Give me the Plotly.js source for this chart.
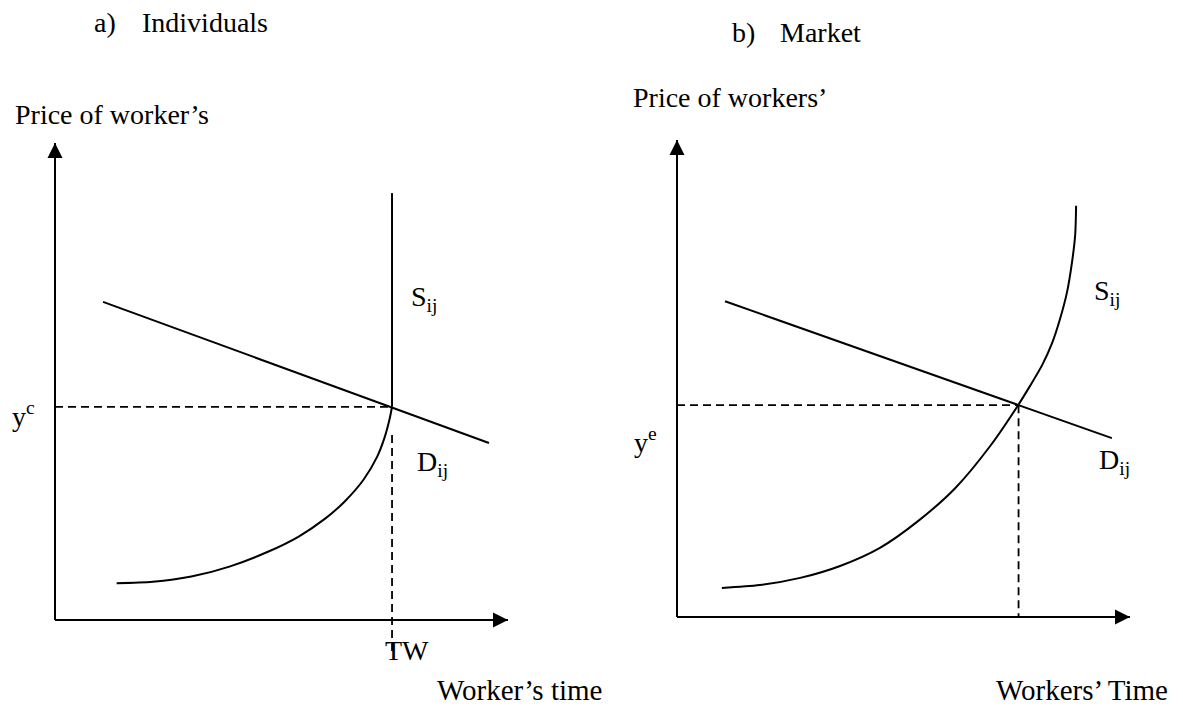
<!DOCTYPE html>
<html><head><meta charset="utf-8">
<script src="https://cdn.plot.ly/plotly-3.0.1.min.js"></script>
<style>html,body{margin:0;padding:0;background:#fff}#chart{width:1183px;height:711px}</style>
</head><body><div id="chart"></div>
<script>
// ---- Panel a) Individuals ----
const indivSupplyTime  = [1.36, 2.16, 3.01, 3.85, 4.70, 5.38, 5.97, 6.39, 6.81, 7.11, 7.28, 7.39, 7.44, 7.44];
const indivSupplyPrice = [0.77, 0.80, 0.91, 1.12, 1.43, 1.75, 2.13, 2.48, 2.94, 3.42, 3.84, 4.23, 4.47, 8.95];
const indivDemandTime  = [1.06, 9.58];
const indivDemandPrice = [6.67, 3.71];
const indivEquilTime   = [7.44];   // TW
const indivEquilPrice  = [4.47];   // y^c
const indivDropRange   = [3.88, -0.73];

// ---- Panel b) Market ----
const marketSupplyTime  = [0.99, 1.83, 2.72, 3.60, 4.48, 5.32, 6.14, 6.91, 7.53, 7.79, 8.06, 8.28, 8.45, 8.61, 8.72, 8.79, 8.81];
const marketSupplyPrice = [0.61, 0.67, 0.82, 1.07, 1.45, 2.01, 2.70, 3.58, 4.44, 4.84, 5.28, 5.74, 6.23, 6.81, 7.44, 8.01, 8.62];
const marketDemandTime  = [1.06, 9.60];
const marketDemandPrice = [6.62, 3.75];
const marketEquilTime   = [7.54];
const marketEquilPrice  = [4.44];

const axisMax = [10];

const FONT = {family: 'Liberation Serif', size: 28, color: '#000'};
const FONT_X = {family: 'Liberation Serif', size: 29, color: '#000'};
const solid = {color: '#000', width: 2};
const dashed = {color: '#000', width: 1.8, dash: '8px,5px'};

function line(x, y, xa, ya, ln, shape) {
  return {type: 'scatter', mode: 'lines', x: x, y: y, xaxis: xa, yaxis: ya,
          line: Object.assign({}, ln, shape ? {shape: shape, smoothing: 0.8} : {}),
          hoverinfo: 'skip', showlegend: false};
}

const n = indivSupplyTime.length;
const data = [
  line([0, axisMax[0]], [0, 0], 'x', 'y', solid),
  line([0, 0], [0, axisMax[0]], 'x', 'y', solid),
  line(indivSupplyTime.slice(0, n - 1), indivSupplyPrice.slice(0, n - 1), 'x', 'y', solid, 'spline'),
  line(indivSupplyTime.slice(n - 2), indivSupplyPrice.slice(n - 2), 'x', 'y', solid),
  line(indivDemandTime, indivDemandPrice, 'x', 'y', solid),
  line([0, indivEquilTime[0]], [indivEquilPrice[0], indivEquilPrice[0]], 'x', 'y', dashed),
  line([indivEquilTime[0], indivEquilTime[0]], indivDropRange, 'x', 'y', dashed),

  line([0, axisMax[0]], [0, 0], 'x2', 'y2', solid),
  line([0, 0], [0, axisMax[0]], 'x2', 'y2', solid),
  line(marketSupplyTime, marketSupplyPrice, 'x2', 'y2', solid, 'spline'),
  line(marketDemandTime, marketDemandPrice, 'x2', 'y2', solid),
  line([0, marketEquilTime[0]], [marketEquilPrice[0], marketEquilPrice[0]], 'x2', 'y2', dashed),
  line([marketEquilTime[0], marketEquilTime[0]], [marketEquilPrice[0], 0], 'x2', 'y2', dashed)
];

function head(xa, ya, x, y, dx, dy) {
  return {xref: xa, yref: ya, x: x, y: y, ax: dx, ay: dy, text: '', showarrow: true,
          arrowhead: 2, arrowsize: 1.5, arrowwidth: 2, arrowcolor: '#000', standoff: 0};
}
function label(xa, ya, x, y, text, xanchor, font) {
  return {xref: xa, yref: ya, x: x, y: y, text: text, showarrow: false, font: font || FONT,
          xanchor: xanchor || 'left', yanchor: 'middle'};
}

const annotations = [
  head('x', 'y', axisMax[0], 0, -25, 0),
  head('x', 'y', 0, axisMax[0], 0, 25),
  head('x2', 'y2', axisMax[0], 0, -25, 0),
  head('x2', 'y2', 0, axisMax[0], 0, 25),

  label('paper', 'paper', 92/1183, 1 - 23/711, 'a)'),
  label('paper', 'paper', 140/1183, 1 - 23/711, 'Individuals'),
  label('x', 'y', -0.93, 10.6, 'Price of worker\u2019s'),
  label('x', 'y', -0.40, 4.30, 'y<sup>c</sup>', 'right'),
  label('x', 'y', 7.82, 6.75, 'S<sub>ij</sub>'),
  label('x', 'y', 7.95, 3.29, 'D<sub>ij</sub>'),
  label('x', 'y', indivEquilTime[0] + 0.33, -0.63, 'TW', 'center'),
  label('x', 'y', 8.38, -1.47, 'Worker\u2019s time', 'left', FONT_X),

  label('paper', 'paper', 730/1183, 1 - 32/711, 'b)'),
  label('paper', 'paper', 778/1183, 1 - 32/711, 'Market'),
  label('x2', 'y2', -1.02, 10.89, 'Price of workers\u2019'),
  label('x2', 'y2', -0.40, 3.71, 'y<sup>e</sup>', 'right'),
  label('x2', 'y2', 9.17, 6.81, 'S<sub>ij</sub>'),
  label('x2', 'y2', 9.28, 3.25, 'D<sub>ij</sub>'),
  label('x2', 'y2', 7.0, -1.53, 'Workers\u2019 Time', 'left', FONT_X)
];

const hidden = {showgrid: false, zeroline: false, showticklabels: false, ticks: '', showline: false, fixedrange: true};

const layout = {
  width: 1183, height: 711,
  margin: {l: 0, r: 0, t: 0, b: 0},
  paper_bgcolor: '#fff', plot_bgcolor: '#fff',
  showlegend: false,
  xaxis:  Object.assign({domain: [0, 0.5], range: [-55/45.3, (591.5-55)/45.3], anchor: 'y'}, hidden),
  yaxis:  Object.assign({domain: [0, 1], range: [(620-711)/47.7, 620/47.7], anchor: 'x'}, hidden),
  xaxis2: Object.assign({domain: [0.5, 1], range: [(591.5-677)/45.3, (1183-677)/45.3], anchor: 'y2'}, hidden),
  yaxis2: Object.assign({domain: [0, 1], range: [(617-711)/47.7, 617/47.7], anchor: 'x2'}, hidden),
  annotations: annotations
};

Plotly.newPlot('chart', data, layout, {staticPlot: true, displayModeBar: false});
</script>
</body></html>
